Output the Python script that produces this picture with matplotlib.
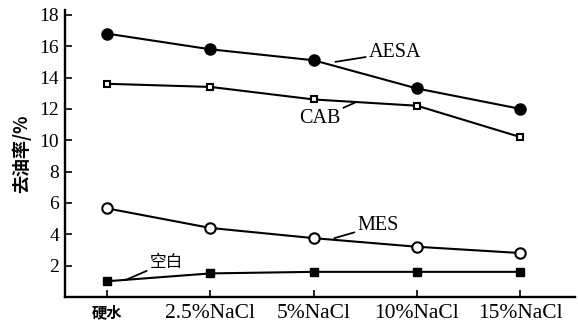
import matplotlib
matplotlib.use("Agg")
import matplotlib.pyplot as plt
import numpy as np

# data
categories = ["硬水", "2.5%NaCl", "5%NaCl", "10%NaCl", "15%NaCl"]
aesa = [16.8, 15.8, 15.1, 13.3, 12.0]
cab = [13.6, 13.4, 12.6, 12.2, 10.2]
mes = [5.65, 4.4, 3.75, 3.2, 2.8]
blank = [1.0, 1.5, 1.6, 1.6, 1.6]
yticks = [2, 4, 6, 8, 10, 12, 14, 16, 18]

serif = ["Liberation Serif", "Noto Sans CJK SC"]
cjk = ["Noto Sans CJK SC", "DejaVu Sans"]

fig = plt.figure(figsize=(5.78, 3.27), dpi=100)
ax = fig.add_axes([0.112, 0.092, 0.883, 0.877])

x = np.arange(len(categories))
lw = 1.5
ax.plot(x, aesa, "-o", color="black", lw=lw, ms=8, mfc="black", mec="black")
ax.plot(x, cab, "-s", color="black", lw=lw, ms=5, mfc="white", mec="black", mew=1.5)
ax.plot(x, mes, "-o", color="black", lw=lw, ms=7.5, mfc="white", mec="black", mew=1.5)
ax.plot(x, blank, "-s", color="black", lw=lw, ms=6, mfc="black", mec="black")

# labels with leader lines
def tag(text, xy, xytext, fam, size, ha="left"):
    ax.annotate(text, xy=xy, xytext=xytext, fontsize=size, family=fam,
                ha=ha, va="center",
                arrowprops=dict(arrowstyle="-", color="black", lw=1.3,
                                shrinkA=0, shrinkB=0))

tag("AESA", (2.21, 15.0), (2.53, 15.6), serif, 14.5)
tag("CAB", (2.40, 12.4), (2.26, 11.4), serif, 14.5, ha="right")
tag("MES", (2.20, 3.75), (2.42, 4.55), serif, 14.5)
tag("空白", (0.18, 1.08), (0.41, 2.2), cjk, 12)

ax.set_xlim(-0.41, 4.53)
ax.set_ylim(0, 18.3)
ax.set_xticks(x)
ax.set_xticklabels(categories)
ax.set_yticks(yticks)
ax.set_yticklabels([str(v) for v in yticks], family=serif, fontsize=14)
for lab in ax.get_xticklabels():
    if lab.get_text() == "硬水":
        lab.set_family(cjk)
        lab.set_fontsize(11)
        lab.set_fontweight("bold")
    else:
        lab.set_family(serif)
        lab.set_fontsize(15.5)

ax.tick_params(direction="in", length=5, width=1.2, pad=4)
ax.tick_params(axis="x", pad=5)
ax.spines["top"].set_visible(False)
ax.spines["right"].set_visible(False)
ax.spines["left"].set_linewidth(1.7)
ax.spines["bottom"].set_linewidth(1.7)

ax.set_ylabel("去油率/%", family=cjk, fontsize=13, fontweight="bold", labelpad=6)

fig.savefig("out.png", dpi=100)
